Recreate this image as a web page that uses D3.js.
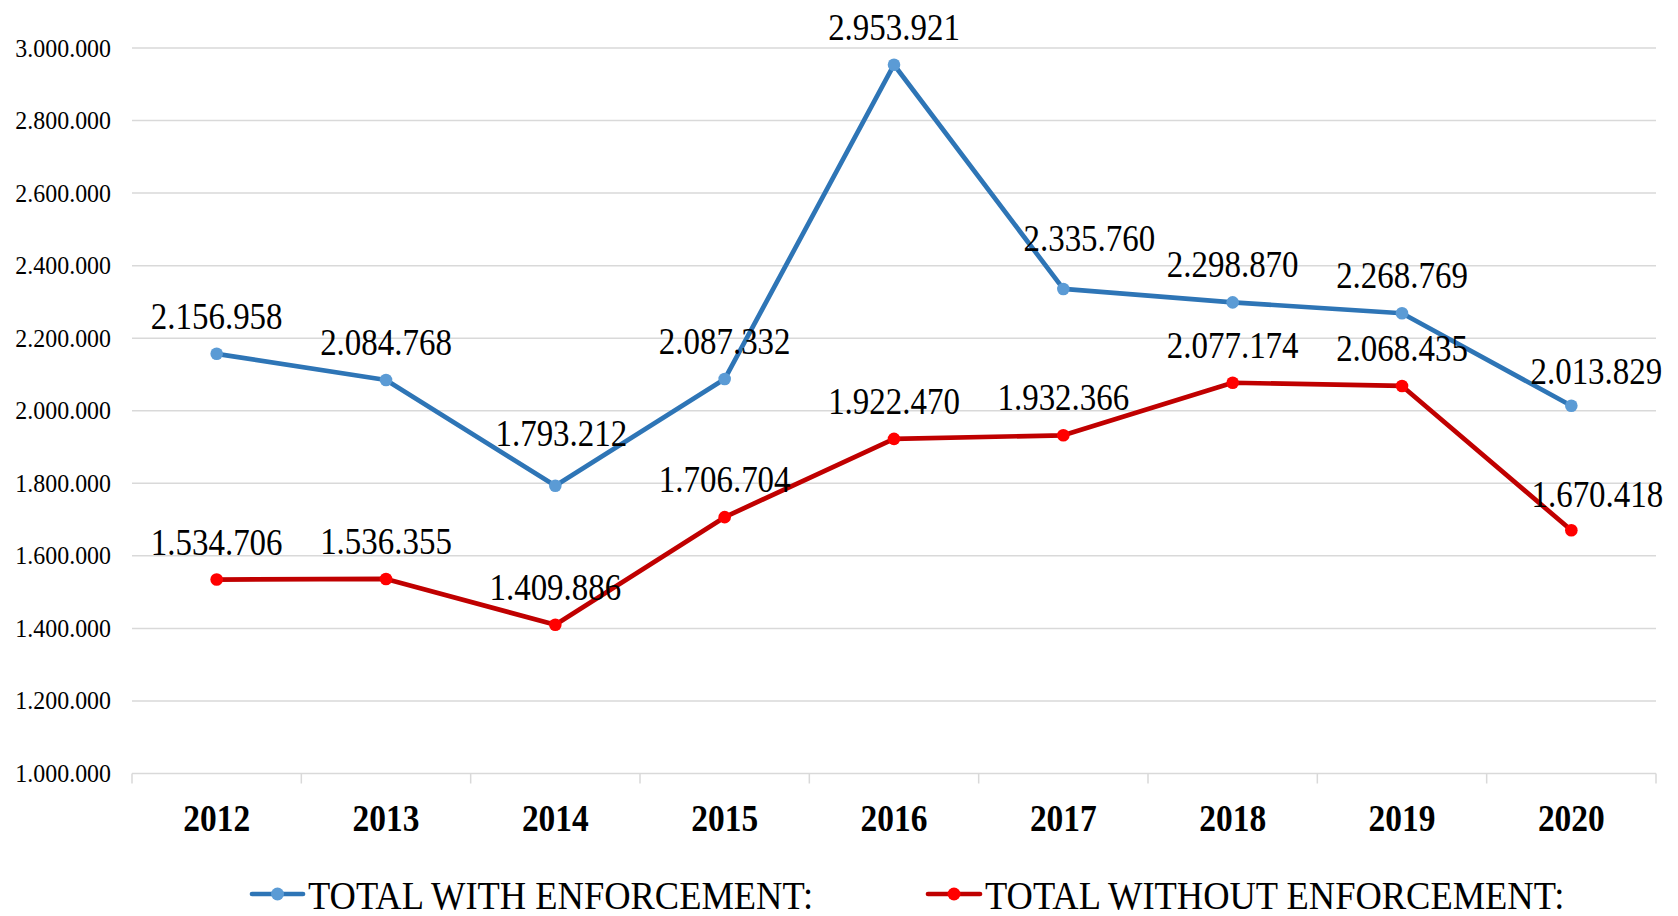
<!DOCTYPE html>
<html>
<head>
<meta charset="utf-8">
<script src="https://cdn.jsdelivr.net/npm/d3@7"></script>
<style>
  html, body { margin: 0; padding: 0; background: #fff; }
  svg { display: block; }
  text { font-family: "Liberation Serif", "Times New Roman", serif; fill: #000; }
</style>
</head>
<body>
<svg id="chart" width="1678" height="916"></svg>
<script>
const years = ["2012","2013","2014","2015","2016","2017","2018","2019","2020"];
const withEnforcement = [2156958, 2084768, 1793212, 2087332, 2953921, 2335760, 2298870, 2268769, 2013829];
const withoutEnforcement = [1534706, 1536355, 1409886, 1706704, 1922470, 1932366, 2077174, 2068435, 1670418];
const yTicks = [1000000, 1200000, 1400000, 1600000, 1800000, 2000000, 2200000, 2400000, 2600000, 2800000, 3000000];
const seriesNames = ["TOTAL WITH ENFORCEMENT:", "TOTAL WITHOUT ENFORCEMENT:"];

(function () {
const svg = d3.select("#chart");
const pLeft = 132, pRight = 1656, pTop = 48, pBottom = 773.5;
const SX = 0.9;

const x = d3.scaleBand().domain(years).range([pLeft, pRight]).padding(0);
const y = d3.scaleLinear().domain([1000000, 3000000]).range([pBottom, pTop]);
const fmt = v => d3.format(",")(v).replace(/,/g, ".");

function addText(g, tx, ty, str, opts) {
  return g.append("text")
    .attr("transform", `translate(${tx},${ty}) scale(${opts.sx || SX},1)`)
    .attr("text-anchor", opts.anchor || "middle")
    .style("font-size", opts.size + "px")
    .style("font-weight", opts.weight || "normal")
    .text(str);
}

// gridlines
svg.append("g").selectAll("line").data(yTicks.slice(1)).join("line")
  .attr("x1", pLeft).attr("x2", pRight)
  .attr("y1", d => y(d)).attr("y2", d => y(d))
  .attr("stroke", "#d9d9d9").attr("stroke-width", 1.5);

// y-axis labels
const yg = svg.append("g");
yTicks.forEach(d => addText(yg, 111, y(d) + 8.5, fmt(d), {size: 26, anchor: "end", sx: 0.92}));

// x-axis
const xAxis = d3.axisBottom(x).tickSize(0).tickFormat("");
const xg = svg.append("g").attr("transform", `translate(0,${pBottom})`).call(xAxis);
xg.select(".domain").attr("stroke", "#d9d9d9").attr("stroke-width", 1.5).attr("d", `M${pLeft},0H${pRight}`);
const bounds = years.map(d => x(d)).concat([pRight]);
xg.append("g").selectAll("line").data(bounds).join("line")
  .attr("x1", d => d).attr("x2", d => d).attr("y1", 0).attr("y2", 10)
  .attr("stroke", "#d9d9d9").attr("stroke-width", 1.5);
const xl = svg.append("g");
years.forEach(d => addText(xl, x(d) + x.bandwidth() / 2, 831, d, {size: 38, weight: "bold", sx: 0.88}));

const cx = d => x(d) + x.bandwidth() / 2;
const series = [
  {values: withEnforcement, line: "#2E75B6", marker: "#5B9BD5"},
  {values: withoutEnforcement, line: "#C00000", marker: "#FF0000"}
];
// manual label nudges (series index, point index) -> [dx, dy]
const labelNudge = {"0-2": [6, -15], "0-5": [26, -13], "0-8": [25, 3], "1-8": [26, 2]};

const lineGen = d3.line().x((d, i) => cx(years[i])).y(d => y(d));
series.forEach((s) => {
  const g = svg.append("g");
  g.append("path").datum(s.values).attr("d", lineGen)
    .attr("fill", "none").attr("stroke", s.line).attr("stroke-width", 4.7)
    .attr("stroke-linejoin", "round");
  g.selectAll("circle").data(s.values).join("circle")
    .attr("cx", (d, i) => cx(years[i])).attr("cy", d => y(d)).attr("r", 6.3)
    .attr("fill", s.marker);
});
const lg = svg.append("g");
series.forEach((s, si) => {
  s.values.forEach((v, i) => {
    const n = labelNudge[si + "-" + i] || [0, 0];
    addText(lg, cx(years[i]) + n[0], y(v) - 25 + n[1], fmt(v), {size: 37, sx: 0.89});
  });
});

// legend
const leg = svg.append("g");
const legendItems = [{x0: 252, x1: 303, tx: 308}, {x0: 928, x1: 980, tx: 985}];
legendItems.forEach((L, i) => {
  const s = series[i];
  leg.append("line").attr("x1", L.x0).attr("x2", L.x1).attr("y1", 894).attr("y2", 894)
    .attr("stroke", s.line).attr("stroke-width", 4.7).attr("stroke-linecap", "round");
  leg.append("circle").attr("cx", (L.x0 + L.x1) / 2).attr("cy", 894).attr("r", 6.5).attr("fill", s.marker);
  addText(leg, L.tx, 909, seriesNames[i], {size: 39, anchor: "start", sx: 0.935});
});
})();
</script>
</body>
</html>
